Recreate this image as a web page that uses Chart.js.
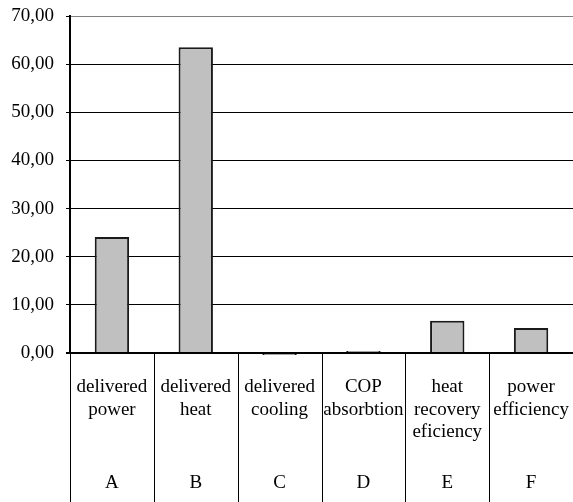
<!DOCTYPE html>
<html>
<head>
<meta charset="utf-8">
<script src="https://cdn.jsdelivr.net/npm/chart.js@4/dist/chart.umd.min.js"></script>
<style>
html,body{margin:0;padding:0;background:#fff;}
#wrap{width:573px;height:502px;}
</style>
</head>
<body>
<div id="wrap"><canvas id="c" width="573" height="502"></canvas></div>
<script>
const categories = [
  ["delivered","power"],
  ["delivered","heat"],
  ["delivered","cooling"],
  ["COP","absorbtion"],
  ["heat","recovery","eficiency"],
  ["power","efficiency"]
];
const letters = ["A","B","C","D","E","F"];
const values = [24.1, 63.5, -0.4, 0.4, 6.7, 5.2];
const yTickLabels = ["0,00","10,00","20,00","30,00","40,00","50,00","60,00","70,00"];
const yMin = 0, yMax = 70, yStep = 10;

const FONT = {family: "'Liberation Serif', 'Times New Roman', serif", size: 19, lineHeight: 1.18};

const separators = {
  id: 'separators',
  afterDraw(chart) {
    const xs = chart.scales.x;
    const ctx = chart.ctx;
    ctx.save();
    ctx.strokeStyle = '#000';
    ctx.lineWidth = 1;
    for (let i = 0; i <= categories.length; i++) {
      const px = Math.round(xs.getPixelForValue(i - 0.5)) + 0.5;
      ctx.beginPath();
      ctx.moveTo(px, chart.chartArea.bottom);
      ctx.lineTo(px, chart.height);
      ctx.stroke();
    }
    ctx.restore();
  }
};

function noPad(s) { s.paddingLeft = 0; s.paddingRight = 0; s.paddingTop = 0; s.paddingBottom = 0; }

new Chart(document.getElementById('c'), {
  type: 'bar',
  data: {
    labels: categories,
    datasets: [{
      data: values,
      backgroundColor: '#c0c0c0',
      borderColor: '#1a1a1a',
      borderWidth: 2,
      borderSkipped: 'start',
      barPercentage: 0.41,
      categoryPercentage: 1,
      clip: false
    }]
  },
  options: {
    responsive: false,
    animation: false,
    devicePixelRatio: 1,
    layout: {padding: {top: 16, right: 0, left: 0, bottom: 0}},
    plugins: {legend: {display: false}, tooltip: {enabled: false}},
    scales: {
      x: {
        type: 'category',
        position: 'bottom',
        weight: 0,
        grid: {display: false},
        border: {display: false},
        ticks: {color: '#000', font: FONT, padding: 15, maxRotation: 0, autoSkip: false},
        afterFit(s) { s.height = 109; noPad(s); }
      },
      x2: {
        type: 'category',
        position: 'bottom',
        weight: 1,
        labels: letters,
        grid: {display: false},
        border: {display: false},
        ticks: {color: '#000', font: FONT, padding: 2, maxRotation: 0, autoSkip: false},
        afterFit(s) { s.height = 40; noPad(s); }
      },
      y: {
        min: yMin,
        max: yMax,
        ticks: {
          stepSize: yStep,
          color: '#000',
          font: FONT,
          padding: 12,
          callback: (v, i) => yTickLabels[i]
        },
        grid: {
          color: (c) => c.tick && c.tick.value === yMax ? '#808080' : '#000',
          lineWidth: (c) => c.tick && c.tick.value === 0 ? 2 : 1,
          tickLength: 4,
          tickColor: '#000'
        },
        border: {display: true, color: '#000', width: 2},
        afterFit(s) { s.width = 70; noPad(s); }
      }
    }
  },
  plugins: [separators]
});
</script>
</body>
</html>
